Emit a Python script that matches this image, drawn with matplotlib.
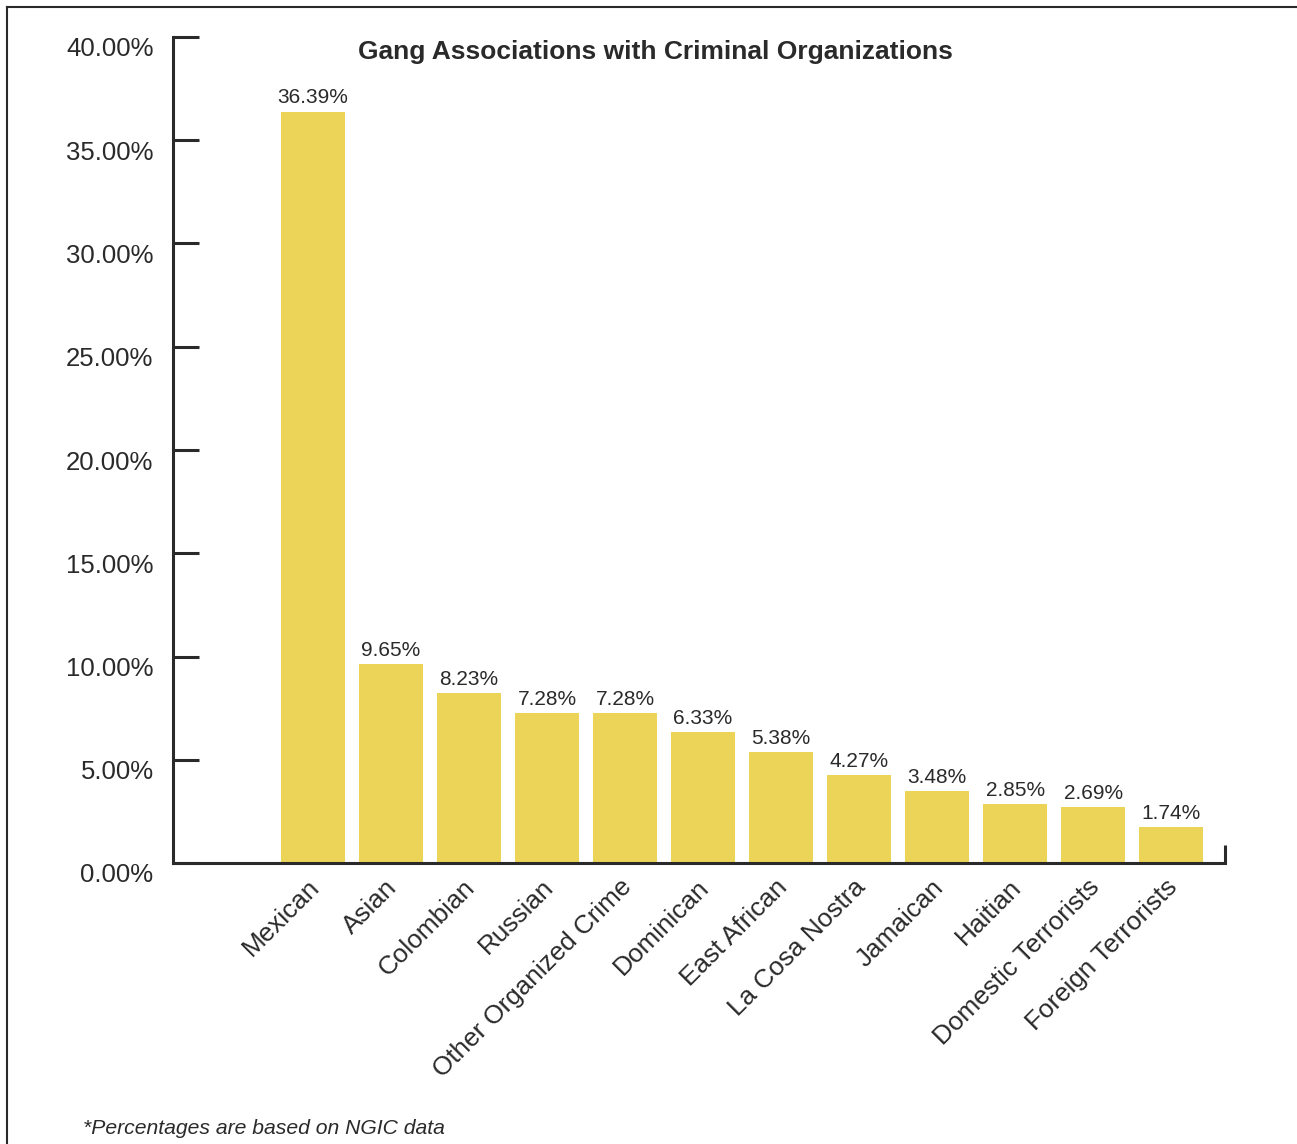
import matplotlib
matplotlib.use("Agg")
import matplotlib.pyplot as plt
import matplotlib.transforms as mtransforms
from matplotlib.lines import Line2D
import numpy as np

categories = ["Mexican", "Asian", "Colombian", "Russian", "Other Organized Crime",
              "Dominican", "East African", "La Cosa Nostra", "Jamaican", "Haitian",
              "Domestic Terrorists", "Foreign Terrorists"]
values = [36.39, 9.65, 8.23, 7.28, 7.28, 6.33, 5.38, 4.27, 3.48, 2.85, 2.69, 1.74]
yticks = [0, 5, 10, 15, 20, 25, 30, 35, 40]

plt.rcParams['font.family'] = ['Liberation Sans', 'DejaVu Sans']
ink = "#2a2a2a"
bar_color = "#EBD457"

fig = plt.figure(figsize=(12.97, 11.44), dpi=100)
ax = fig.add_axes([173/1297, 1 - 863/1144, (1225-173)/1297, (863-37)/1144])

x = np.arange(len(categories))
bars = ax.bar(x, values, width=0.82, color=bar_color, zorder=2)

for b, v in zip(bars, values):
    ax.annotate("%.2f%%" % v, (b.get_x() + b.get_width()/2, v),
                xytext=(0, 3), textcoords="offset points",
                ha="center", va="bottom", fontsize=15, color=ink)

ax.set_xlim(-1.795, 11.69)
ax.set_ylim(0, 40)
ax.set_yticks(yticks)
ax.set_yticklabels(["%.2f%%" % t for t in yticks])
ax.tick_params(axis="y", direction="in", length=19, width=2.2, color=ink,
               labelsize=18.5, labelcolor=ink, pad=14)
# tick labels sit a little below their ticks in the original
down = mtransforms.ScaledTranslation(0, -10/100, fig.dpi_scale_trans)
for lab in ax.get_yticklabels():
    lab.set_transform(lab.get_transform() + down)

ax.set_xticks(x)
ax.set_xticklabels(categories, rotation=45, ha="right", va="top",
                   rotation_mode="anchor")
ax.tick_params(axis="x", length=0, labelsize=18.8, labelcolor=ink, pad=10)
shift = mtransforms.ScaledTranslation(-6/100, 2/100, fig.dpi_scale_trans)
for lab in ax.get_xticklabels():
    lab.set_rotation_mode("anchor")
    lab.set_transform(lab.get_transform() + shift)

for s in ["top", "right"]:
    ax.spines[s].set_visible(False)
for s in ["left", "bottom"]:
    ax.spines[s].set_linewidth(2.2)
    ax.spines[s].set_color(ink)

# small end mark at the right end of the baseline
ax.plot([1, 1], [0, 0.022], transform=ax.transAxes, color=ink, lw=2.2,
        clip_on=False, solid_capstyle="butt")

fig.text(655/1297, 1 - 52/1144, "Gang Associations with Criminal Organizations",
         ha="center", va="center", fontsize=19, fontweight="bold", color=ink)
fig.text(83/1297, 1 - 1128/1144, "*Percentages are based on NGIC data",
         ha="left", va="center", fontsize=15.2, style="italic", color=ink)

# page frame (top and left edges)
fig.add_artist(Line2D([7/1297, 1], [1 - 7/1144, 1 - 7/1144], color=ink, lw=1.5))
fig.add_artist(Line2D([7/1297, 7/1297], [0, 1 - 7/1144], color=ink, lw=1.5))

fig.savefig("out.png", dpi=100)
